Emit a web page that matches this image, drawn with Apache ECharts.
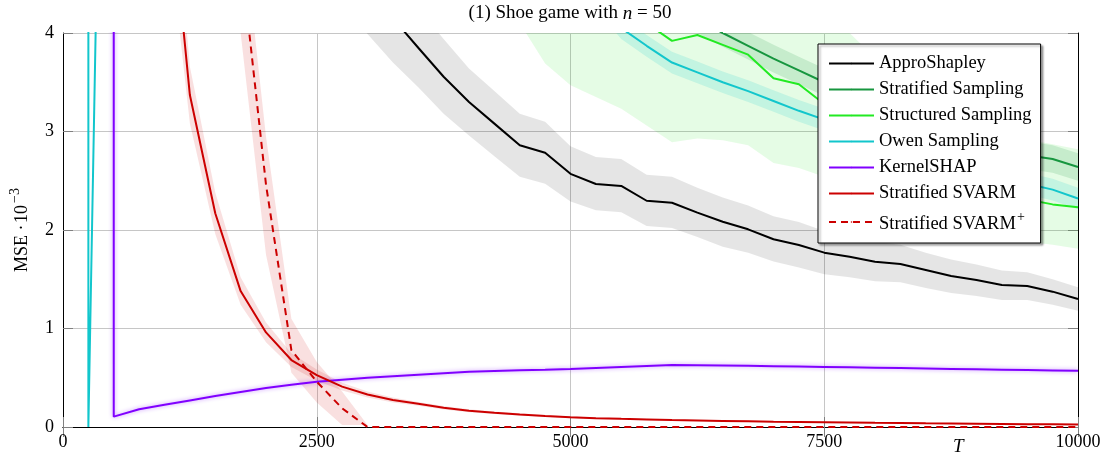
<!DOCTYPE html>
<html><head><meta charset="utf-8">
<script src="https://cdn.jsdelivr.net/npm/echarts@6/dist/echarts.min.js"></script>
<style>html,body{margin:0;padding:0;background:#fff}#c{width:1107px;height:456px}</style>
</head><body><div id="c"></div>
<script>
// Budget T (x categories)
const T = [0,250,500,750,1000,1250,1500,1750,2000,2250,2500,2750,3000,3250,3500,3750,4000,4250,4500,4750,5000,
  5250,5500,5750,6000,6250,6500,6750,7000,7250,7500,7750,8000,8250,8500,8750,9000,9250,9500,9750,10000];
const yTicks = [0,1,2,3,4];

// ApproShapley (from T=2500)
const approStart = 2500;
const approShapley = [5.2,4.8,4.45,4.15,3.85,3.556,3.30,3.08,2.86,2.785,2.57,2.467,2.447,2.297,2.277,2.176,2.084,2.007,1.906,1.848,1.770,1.729,1.678,1.655,1.594,1.533,1.492,1.442,1.431,1.374,1.30];
const approLo = [4.7,4.32,3.99,3.70,3.45,3.18,2.96,2.75,2.54,2.47,2.29,2.20,2.18,2.04,2.02,1.93,1.83,1.77,1.68,1.62,1.55,1.52,1.48,1.47,1.41,1.36,1.33,1.29,1.29,1.24,1.18];
const approHi = [5.7,5.28,4.91,4.60,4.25,3.94,3.64,3.41,3.18,3.10,2.85,2.74,2.72,2.56,2.54,2.43,2.33,2.25,2.14,2.08,1.99,1.94,1.88,1.85,1.77,1.70,1.65,1.59,1.57,1.50,1.42];

// Stratified Sampling (from T=5500)
const stratStart = 5500;
const stratified = [4.55,4.42,4.28,4.14,4.00,3.87,3.74,3.62,3.50,3.39,3.28,3.18,3.08,2.98,2.89,2.81,2.76,2.72,2.64];
const stratLo = [4.41,4.28,4.14,4.00,3.86,3.73,3.60,3.48,3.36,3.25,3.14,3.04,2.94,2.84,2.75,2.67,2.62,2.58,2.50];
const stratHi = [4.69,4.56,4.42,4.28,4.14,4.01,3.88,3.76,3.64,3.53,3.42,3.32,3.22,3.12,3.03,2.95,2.90,2.86,2.78];

// Structured Sampling (line from T=5250, band from T=4500)
const structStart = 5250;
const structured = [4.6,4.3,4.1,3.92,3.98,3.88,3.78,3.54,3.48,3.28,3.12,2.98,2.85,2.72,2.60,2.49,2.40,2.31,2.26,2.23];
const structBandStart = 4500;
const structLo = [4.1,3.69,3.47,3.35,3.23,3.06,2.89,2.93,2.91,2.86,2.68,2.63,2.54,2.45,2.37,2.28,2.19,2.10,2.02,1.95,1.88,1.85,1.81];
const structHi = [5.8,5.6,5.4,5.3,5.2,5.0,4.85,4.75,4.6,4.5,4.3,4.2,4.1,4.0,3.75,3.55,3.38,3.22,3.1,3.0,2.92,2.87,2.82];

// Owen Sampling (from T=0, band from T=5250)
const owenStart = 0;
const owen = [20000,0,14,13,12,11.2,10.5,9.8,9.2,8.7,8.2,7.8,7.4,7.0,6.6,6.3,6.0,5.7,5.4,5.0,4.7,4.35,4.05,3.87,3.70,3.60,3.50,3.41,3.31,3.21,3.12,3.03,2.94,2.85,2.77,2.68,2.60,2.53,2.47,2.41,2.32];
const owenBandStart = 5250;
const owenLo = [4.24,3.94,3.76,3.59,3.49,3.39,3.30,3.20,3.10,3.01,2.92,2.83,2.74,2.66,2.57,2.49,2.42,2.36,2.30,2.21];
const owenHi = [4.46,4.16,3.98,3.81,3.71,3.61,3.52,3.42,3.32,3.23,3.14,3.05,2.96,2.88,2.79,2.71,2.64,2.58,2.52,2.43];

// KernelSHAP (from T=250)
const kernelStart = 250;
const kernel = [20000,0.105,0.18,0.225,0.27,0.315,0.355,0.395,0.43,0.46,0.48,0.50,0.515,0.53,0.545,0.56,0.568,0.575,0.582,0.59,0.60,0.61,0.62,0.63,0.628,0.625,0.622,0.618,0.614,0.61,0.606,0.602,0.598,0.594,0.59,0.586,0.582,0.578,0.574,0.57];

// Stratified SVARM (from T=1000)
const svarmStart = 1000;
const svarm = [6.0,3.37,2.17,1.38,0.96,0.68,0.527,0.41,0.33,0.275,0.235,0.195,0.165,0.145,0.128,0.112,0.098,0.09,0.083,0.077,0.07,0.066,0.062,0.058,0.054,0.051,0.048,0.045,0.042,0.04,0.037,0.035,0.033,0.031,0.029,0.027,0.025];
const svarmLo = [5.4,3.08,1.96,1.24,0.86,0.61,0.47,0.37,0.30,0.25,0.215,0.178,0.15,0.133,0.117,0.103,0.09,0.083,0.076,0.071,0.065,0.061,0.057,0.053,0.049,0.046,0.043,0.040,0.037,0.035,0.032,0.030,0.028,0.026,0.024,0.022,0.020];
const svarmHi = [6.6,3.66,2.38,1.52,1.06,0.75,0.585,0.45,0.36,0.30,0.255,0.212,0.18,0.157,0.139,0.121,0.106,0.097,0.09,0.083,0.075,0.071,0.067,0.063,0.059,0.056,0.053,0.050,0.047,0.045,0.042,0.040,0.038,0.036,0.034,0.032,0.030];

// Stratified SVARM+ (from T=1500, band from T=1750)
const plusStart = 1500;
const svarmPlus = [7.5,4.8,2.46,0.78,0.46,0.19,0,0,0,0,0,0,0,0,0,0,0,0,0,0,0,0,0,0,0,0,0,0,0,0,0,0,0,0,0];
const plusBandStart = 1750;
const plusLo = [4.0,1.75,0.55,0.25,0.02,0.0];
const plusHi = [5.3,2.95,1.1,0.66,0.36,0.02];

const names = ['ApproShapley','Stratified Sampling','Structured Sampling','Owen Sampling','KernelSHAP','Stratified SVARM','Stratified SVARM+'];

// align a series that starts at budget `start` onto the category axis
function pad(start, vals) {
  const s = T.indexOf(start);
  return T.map((t, i) => (i - s >= 0 && i - s < vals.length) ? vals[i - s] : null);
}
const SERIF = 'Liberation Serif';

function line(name, start, vals, color, extra) {
  return Object.assign({
    name, type: 'line', data: pad(start, vals), symbol: 'none', z: 3,
    lineStyle: Object.assign({ color, width: 2 }, (extra && extra.ls) || {}),
    itemStyle: { color }, silent: true, animation: false
  }, (extra && extra.opt) || {});
}
function band(id, start, lo, hi, color) {
  const L = pad(start, lo), H = pad(start, hi);
  const D = H.map((h, i) => (h == null || L[i] == null) ? null : h - L[i]);
  return [
    { name: id + '_lo', type: 'line', data: L, stack: id, stackStrategy: 'all', symbol: 'none', z: 1,
      lineStyle: { opacity: 0, width: 0 }, silent: true, animation: false },
    { name: id + '_d', type: 'line', data: D, stack: id, stackStrategy: 'all', symbol: 'none', z: 1,
      lineStyle: { opacity: 0, width: 0 }, areaStyle: { color, opacity: 1 }, silent: true, animation: false }
  ];
}

const C = {
  appro: '#000000', strat: '#17963f', struct: '#22ea22', owen: '#12c6cc', kernel: '#8000ff', red: '#cc0000'
};

const series = [].concat(
  band('structBand', structBandStart, structLo, structHi, 'rgba(0,230,0,0.10)'),
  band('approBand', approStart, approLo, approHi, 'rgba(0,0,0,0.10)'),
  band('stratBand', stratStart, stratLo, stratHi, 'rgba(23,150,63,0.15)'),
  band('owenBand', owenBandStart, owenLo, owenHi, 'rgba(0,200,200,0.15)'),
  band('svarmBand', svarmStart, svarmLo, svarmHi, 'rgba(204,0,0,0.12)'),
  band('plusBand', plusBandStart, plusLo, plusHi, 'rgba(204,0,0,0.12)'),
  [
    line(names[0], approStart, approShapley, C.appro),
    line(names[1], stratStart, stratified, C.strat),
    line(names[2], structStart, structured, C.struct),
    line(names[3], owenStart, owen, C.owen),
    line(names[4], kernelStart, kernel, C.kernel, { ls: { shadowBlur: 4, shadowColor: 'rgba(128,0,255,0.45)' } }),
    line(names[5], svarmStart, svarm, C.red),
    line(names[6], plusStart, svarmPlus, C.red, { ls: { type: [7, 5] } })
  ]
);

const chart = echarts.init(document.getElementById('c'), null, { renderer: 'canvas' });
const axisTickStyle = { show: true, inside: true, length: 10, lineStyle: { color: '#808080', width: 1 } };
chart.setOption({
  animation: false,
  backgroundColor: '#fff',
  title: {
    text: '{r|(1) Shoe game with }{i|n}{r| = 50}',
    left: 570, top: 4, padding: 0, textAlign: 'center',
    textStyle: {
      fontWeight: 'normal',
      rich: {
        r: { fontFamily: SERIF, fontSize: 19, color: '#000', fontWeight: 'normal' },
        i: { fontFamily: SERIF, fontSize: 19, color: '#000', fontWeight: 'normal', fontStyle: 'italic' }
      }
    }
  },
  grid: { left: 63, right: 29, top: 33, bottom: 29, containLabel: false },
  legend: {
    data: names, orient: 'vertical', left: 818, top: 44,
    itemWidth: 45, itemHeight: 2, itemGap: 7,
    padding: [10, 9, 9, 10],
    backgroundColor: '#fff', borderColor: '#000', borderWidth: 1, borderRadius: 0,
    shadowColor: 'rgba(0,0,0,0.35)', shadowBlur: 2, shadowOffsetX: 2, shadowOffsetY: 2,
    selectedMode: false,
    itemStyle: { borderWidth: 0 },
    textStyle: {
      fontFamily: SERIF, fontSize: 18.5, color: '#000',
      rich: {
        n: { fontFamily: SERIF, fontSize: 18.5, color: '#000', verticalAlign: 'bottom' },
        s: { fontFamily: SERIF, fontSize: 14, color: '#000', verticalAlign: 'bottom', padding: [0, 0, 10, 1] }
      }
    },
    formatter: function (name) {
      return name === 'Stratified SVARM+' ? '{n|Stratified SVARM}{s|+}' : name;
    }
  },
  xAxis: [
    {
      type: 'category', data: T, boundaryGap: false, position: 'bottom',
      axisLine: { show: true, lineStyle: { color: '#000', width: 1 } },
      axisTick: Object.assign({ interval: 9 }, axisTickStyle),
      axisLabel: { interval: 9, fontFamily: SERIF, fontSize: 18, color: '#000', margin: 6 },
      splitLine: { show: true, interval: 9, lineStyle: { color: '#c6c6c6', width: 1 } }
    },
    {
      type: 'category', data: T, boundaryGap: false, position: 'top',
      axisLine: { show: true, lineStyle: { color: '#000', width: 1 } },
      axisTick: Object.assign({ interval: 9 }, axisTickStyle),
      axisLabel: { show: false }, splitLine: { show: false }
    }
  ],
  yAxis: [
    {
      type: 'value', min: yTicks[0], max: yTicks[yTicks.length - 1], interval: 1, position: 'left',
      axisLine: { show: true, lineStyle: { color: '#000', width: 1 } },
      axisTick: axisTickStyle,
      axisLabel: { fontFamily: SERIF, fontSize: 18, color: '#000', margin: 9 },
      splitLine: { show: true, lineStyle: { color: '#c6c6c6', width: 1 } },
      name: '{a|MSE ·\u200a10}{b|−3}', nameLocation: 'middle', nameGap: 32, nameRotate: 90,
      nameTextStyle: {
        rich: {
          a: { fontFamily: SERIF, fontSize: 18, color: '#000', verticalAlign: 'bottom' },
          b: { fontFamily: SERIF, fontSize: 14, color: '#000', verticalAlign: 'bottom', padding: [0, 0, 9, 2] }
        }
      }
    },
    {
      type: 'value', min: yTicks[0], max: yTicks[yTicks.length - 1], interval: 1, position: 'right',
      axisLine: { show: true, lineStyle: { color: '#000', width: 1 } },
      axisTick: axisTickStyle, axisLabel: { show: false }, splitLine: { show: false }
    }
  ],
  graphic: [
    { type: 'text', left: 953, top: 437, z: 10,
      style: { text: 'T', fontFamily: SERIF, fontSize: 19, fontStyle: 'italic', fill: '#000' } }
  ],
  series: series
});
</script>
</body></html>
